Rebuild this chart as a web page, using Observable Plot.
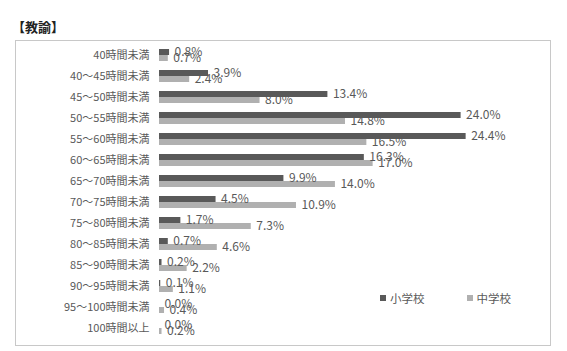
<!DOCTYPE html>
<html>
<head>
<meta charset="utf-8">
<script src="https://cdn.jsdelivr.net/npm/d3@7"></script>
<script src="https://cdn.jsdelivr.net/npm/@observablehq/plot@0.6"></script>
<style>
  body { margin: 0; background: #fff; font-family: "Noto Sans CJK JP", "Noto Sans", sans-serif; }
  #wrap { position: relative; width: 567px; height: 351px; overflow: hidden; }
  #title { position: absolute; left: 12px; top: 17px; font-size: 13px; font-weight: bold; color: #222; }
  #box { position: absolute; left: 15px; top: 40px; width: 534px; height: 304px; border: 1px solid #c8c8c8; }
  #chart { position: absolute; left: 0; top: 37px; }
  #chart svg { overflow: visible; }
  #legend { position: absolute; top: 290px; left: 380px; font-size: 11.5px; color: #595959; display: flex; gap: 42px; }
  #legend span { display: inline-flex; align-items: center; }
  #legend i { display: inline-block; width: 6px; height: 6px; margin-right: 4px; }
</style>
</head>
<body>
<div id="wrap">
  <div id="title">【教諭】</div>
  <div id="box"></div>
  <div id="chart"></div>
  <div id="legend"></div>
</div>
<script>
const categories = ["40時間未満","40～45時間未満","45～50時間未満","50～55時間未満","55～60時間未満","60～65時間未満","65～70時間未満","70～75時間未満","75～80時間未満","80～85時間未満","85～90時間未満","90～95時間未満","95～100時間未満","100時間以上"];
const series = ["小学校", "中学校"];
const elementary = [0.8, 3.9, 13.4, 24.0, 24.4, 16.3, 9.9, 4.5, 1.7, 0.7, 0.2, 0.1, 0.0, 0.0];
const juniorHigh = [0.7, 2.4, 8.0, 14.8, 16.5, 17.0, 14.0, 10.9, 7.3, 4.6, 2.2, 1.1, 0.4, 0.2];
const colors = ["#595959", "#b0b0b0"];

const data = [];
categories.forEach((c, i) => {
  data.push({category: c, school: series[0], value: elementary[i]});
  data.push({category: c, school: series[1], value: juniorHigh[i]});
});

const chart = Plot.plot({
  width: 567,
  height: 302,
  marginLeft: 159,
  marginRight: 31,
  marginTop: 7,
  marginBottom: 0,
  style: {fontFamily: '"Noto Sans CJK JP", "Noto Sans", sans-serif', fontSize: "11px", color: "#595959", background: "transparent", overflow: "visible"},
  x: {domain: [0, 30], axis: null},
  fy: {domain: categories, paddingInner: 0.38, paddingOuter: 0.14, label: null, tickSize: 0, tickPadding: 10},
  y: {domain: series, axis: null, padding: 0},
  color: {domain: series, range: colors},
  marks: [
    Plot.barX(data, {fy: "category", y: "school", x: "value", fill: "school"}),
    Plot.text(data, {fy: "category", y: "school", x: "value", text: d => d.value.toFixed(1) + "%", textAnchor: "start", dx: 5, fill: "#595959", fontSize: 12})
  ]
});
document.getElementById("chart").appendChild(chart);

const legend = document.getElementById("legend");
series.forEach((s, i) => {
  const span = document.createElement("span");
  const sw = document.createElement("i");
  sw.style.background = colors[i];
  span.appendChild(sw);
  span.appendChild(document.createTextNode(s));
  legend.appendChild(span);
});
</script>
</body>
</html>
